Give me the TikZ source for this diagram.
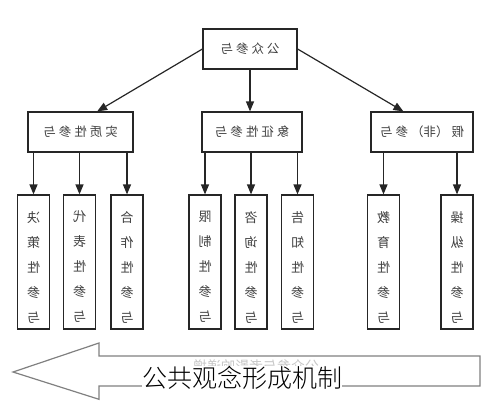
\documentclass[tikz,border=0pt]{standalone}
\usepackage{fontspec}
\usepackage{graphicx}
\newfontfamily\cjk{Noto Sans CJK SC}
\newfontfamily\cjkl{Noto Sans CJK SC Light}
\usetikzlibrary{arrows.meta,calc}
\newcommand\rf[1]{\reflectbox{#1}}
\newcommand\gp{\hspace{3pt}}
\newcommand\vlab[5]{\rf{#1}\\\rf{#2}\\\rf{#3}\\\rf{#4}\\\rf{#5}}
\begin{document}
\begin{tikzpicture}[x=1pt,y=-1pt,
  box/.style={draw=black!85, line width=1.2pt, inner sep=0pt},
  hbox/.style={box, minimum height=40pt, font=\cjk\fontsize{12.5}{14}\selectfont, text=black!75},
  vbx/.style={box, minimum width=32pt, minimum height=134pt},
  vlabs/.style={font=\cjk\fontsize{13}{25}\selectfont, text=black!75, align=center, inner sep=0pt},
  arr/.style={-{Triangle[length=10pt,width=8pt]}, line width=1.2pt, draw=black!85},
  ]
\useasboundingbox (0,0) rectangle (484,400);
% top
\node[hbox, minimum width=94pt] (top) at (250,49) {\rf{公\gp 众\gp 参\gp 与}};
% level 2
\node[hbox, minimum width=105pt] (l2a) at (80.5,132) {\rf{实\gp 质\gp 性\gp 参\gp 与}};
\node[hbox, minimum width=100pt] (l2b) at (252,132) {\rf{象\gp 征\gp 性\gp 参\gp 与}};
\node[hbox, minimum width=102pt] (l2c) at (422,132) {\rf{假\gp（非）\gp 参\gp 与}};
% vertical boxes
\foreach \n/\x in {v1/33.5, v2/79.5, v3/127, v4/205, v5/251, v6/297.5, v7/383.5, v8/457}
  \node[vbx] (\n) at (\x,262) {};
\node[vlabs] (t1) at (v1 |- 0,267) {\vlab{决}{策}{性}{参}{与}};
\node[vlabs] (t2) at (v2 |- 0,267) {\vlab{代}{表}{性}{参}{与}};
\node[vlabs] (t3) at (v3 |- 0,267) {\vlab{合}{作}{性}{参}{与}};
\node[vlabs] (t4) at (v4 |- 0,267) {\vlab{限}{制}{性}{参}{与}};
\node[vlabs] (t5) at (v5 |- 0,267) {\vlab{咨}{询}{性}{参}{与}};
\node[vlabs] (t6) at (v6 |- 0,267) {\vlab{告}{知}{性}{参}{与}};
\node[vlabs] (t7) at (v7 |- 0,267) {\vlab{教}{育}{性}{参}{与}};
\node[vlabs] (t8) at (v8 |- 0,267) {\vlab{操}{纵}{性}{参}{与}};
% arrows from top
\draw[arr] (top.west) -- ($(l2a.north west)!0.657!(l2a.north east)$);
\draw[arr] (top.south) -- (top.south |- l2b.north);
\draw[arr] (top.east) -- ($(l2c.north west)!0.32!(l2c.north east)$);
% arrows to vertical boxes
\foreach \v/\p in {v1/l2a, v2/l2a, v3/l2a, v4/l2b, v5/l2b, v6/l2b, v7/l2c, v8/l2c}
  \draw[arr] (\v.north |- \p.south) -- (\v.north);
% big arrow
\draw[draw=black!50, line width=1.2pt, line join=miter]
  (480,356) -- (99,356) -- (99,343) -- (13,372) -- (99,399.3) -- (99,386) -- (480,386) -- cycle;
\node[font=\cjk\fontsize{14}{16}\selectfont, text=black!22] (faint) at (256,366) {\rf{公众参与者影响递增}};
\node[fill=white, inner sep=0pt, font=\cjkl\fontsize{25}{28}\selectfont] (cap) at (242,378) {公共观念形成机制};
\end{tikzpicture}
\end{document}
